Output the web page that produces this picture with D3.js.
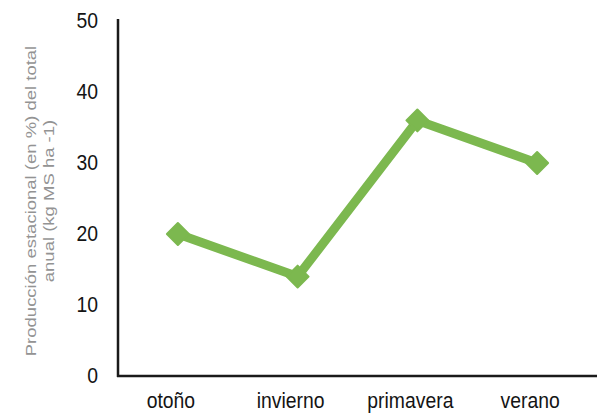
<!DOCTYPE html>
<html>
<head>
<meta charset="utf-8">
<script src="https://cdn.jsdelivr.net/npm/d3@7"></script>
<style>
  html, body { margin: 0; padding: 0; background: #fff; }
  svg { display: block; }
  .tick-label { font-family: "Liberation Sans", Arial, sans-serif; fill: #141414; }
  .axis-title { font-family: "Liberation Sans", Arial, sans-serif; fill: #939393; }
</style>
</head>
<body>
<svg id="chart" width="604" height="414"></svg>
<script>
// Seasonal share of annual forage production
const seasons = ["otoño", "invierno", "primavera", "verano"];
const shares = [20, 14, 36, 30];
const yTicks = [0, 10, 20, 30, 40, 50];
const yTitleLines = ["Producción estacional (en %) del total", "anual (kg MS ha -1)"];

const width = 604, height = 414;
const plot = { left: 118, right: 597, top: 21, bottom: 376 };
const condense = 0.88; // horizontal squeeze for a narrow label face

const svg = d3.select("#chart");

const x = d3.scalePoint()
  .domain(seasons)
  .range([plot.left, plot.right])
  .padding(0.5);

const y = d3.scaleLinear()
  .domain([0, 50])
  .range([plot.bottom, plot.top]);

// Axis lines
svg.append("line")
  .attr("x1", plot.left).attr("x2", plot.left)
  .attr("y1", y(50) - 2).attr("y2", plot.bottom + 1)
  .attr("stroke", "#1a1a1a").attr("stroke-width", 2.5);
svg.append("line")
  .attr("x1", plot.left - 1).attr("x2", plot.right)
  .attr("y1", plot.bottom).attr("y2", plot.bottom)
  .attr("stroke", "#1a1a1a").attr("stroke-width", 2.5);

// Y tick labels
svg.append("g").selectAll("text")
  .data(yTicks)
  .join("text")
  .attr("class", "tick-label")
  .attr("transform", d => `translate(98,${y(d) - 1}) scale(${condense},1)`)
  .attr("dy", "0.36em")
  .attr("text-anchor", "end")
  .attr("font-size", 22)
  .text(d => d);

// X category labels
svg.append("g").selectAll("text")
  .data(seasons)
  .join("text")
  .attr("class", "tick-label")
  .attr("transform", d => `translate(${x(d) - 7},408) scale(${condense},1)`)
  .attr("text-anchor", "middle")
  .attr("font-size", 22)
  .text(d => d);

// Y axis title (two lines, rotated)
const title = svg.append("g")
  .attr("transform", "translate(40,201) scale(0.84,1) rotate(-90)");
title.selectAll("text")
  .data(yTitleLines)
  .join("text")
  .attr("class", "axis-title")
  .attr("x", 0)
  .attr("y", (d, i) => -11 + i * 21.5)
  .attr("dy", "0.35em")
  .attr("text-anchor", "middle")
  .attr("font-size", 18.5)
  .text(d => d);

// Series line
const green = "#7cb84f";
const line = d3.line()
  .x((d, i) => x(seasons[i]))
  .y(d => y(d));

svg.append("path")
  .datum(shares)
  .attr("d", line)
  .attr("fill", "none")
  .attr("stroke", green)
  .attr("stroke-width", 9)
  .attr("stroke-linejoin", "round");

// Diamond markers
const marker = d3.symbol().type(d3.symbolSquare).size(240);
svg.append("g").selectAll("path")
  .data(shares)
  .join("path")
  .attr("d", marker)
  .attr("transform", (d, i) => `translate(${x(seasons[i])},${y(d)}) rotate(45)`)
  .attr("fill", green)
  .attr("stroke", green)
  .attr("stroke-width", 2)
  .attr("stroke-linejoin", "round");
</script>
</body>
</html>
